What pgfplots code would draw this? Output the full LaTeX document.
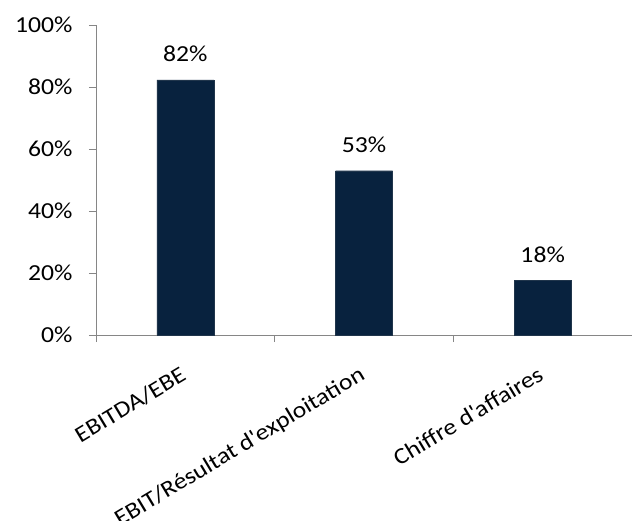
\documentclass[border=0pt]{standalone}
\usepackage{fontspec}
\setmainfont{Carlito}[FakeStretch=1.12]
\usepackage{pgfplots}
\pgfplotsset{compat=1.18}

\definecolor{barnavy}{RGB}{8,34,62}
\definecolor{axisgray}{RGB}{134,134,134}

\begin{document}
\begin{tikzpicture}
\begin{axis}[
	scale only axis,
	width=536bp, height=310bp,
	xmin=0, xmax=3,
	ymin=0, ymax=100,
	axis x line*=bottom,
	axis y line*=left,
	axis line style={axisgray, line width=0.9bp},
	tick style={axisgray, line width=0.9bp},
	tick align=outside,
	major tick length=7bp,
	xtick={0,1,2,3},
	xticklabels={},
	extra x ticks={0.5,1.5,2.5},
	extra x tick labels={EBITDA/EBE,{EBIT/Résultat d\textquotesingle exploitation},{Chiffre d\textquotesingle affaires}},
	extra x tick style={major tick length=0pt,
		tick label style={xshift=-6bp, yshift=-30bp, rotate=31, anchor=north east, inner sep=0pt}},
	ytick={0,20,40,60,80,100},
	yticklabel={\pgfmathprintnumber{\tick}\%},
	yticklabel style={xshift=-13bp},
	/pgf/number format/assume math mode=true,
	tick label style={font=\fontsize{23}{26}\selectfont},
	ybar, bar width=57bp,
	nodes near coords={\pgfmathprintnumber[fixed,precision=0]{\pgfplotspointmeta}\%},
	nodes near coords style={font=\fontsize{23}{26}\selectfont, black, anchor=base, yshift=18bp, inner sep=0pt},
	clip=false,
]
\addplot[fill=barnavy, draw=barnavy!80!gray, line width=0.4bp] coordinates {
	(0.5,82.3)
	(1.5,53.0)
	(2.5,17.6)
};
\coordinate (sw) at (rel axis cs:0,0);
\coordinate (ne) at (rel axis cs:1,1);
\end{axis}
\pgfresetboundingbox
\useasboundingbox ([shift={(-96bp,-186bp)}]sw) rectangle ([shift={(0bp,25bp)}]ne);
\end{tikzpicture}
\end{document}
